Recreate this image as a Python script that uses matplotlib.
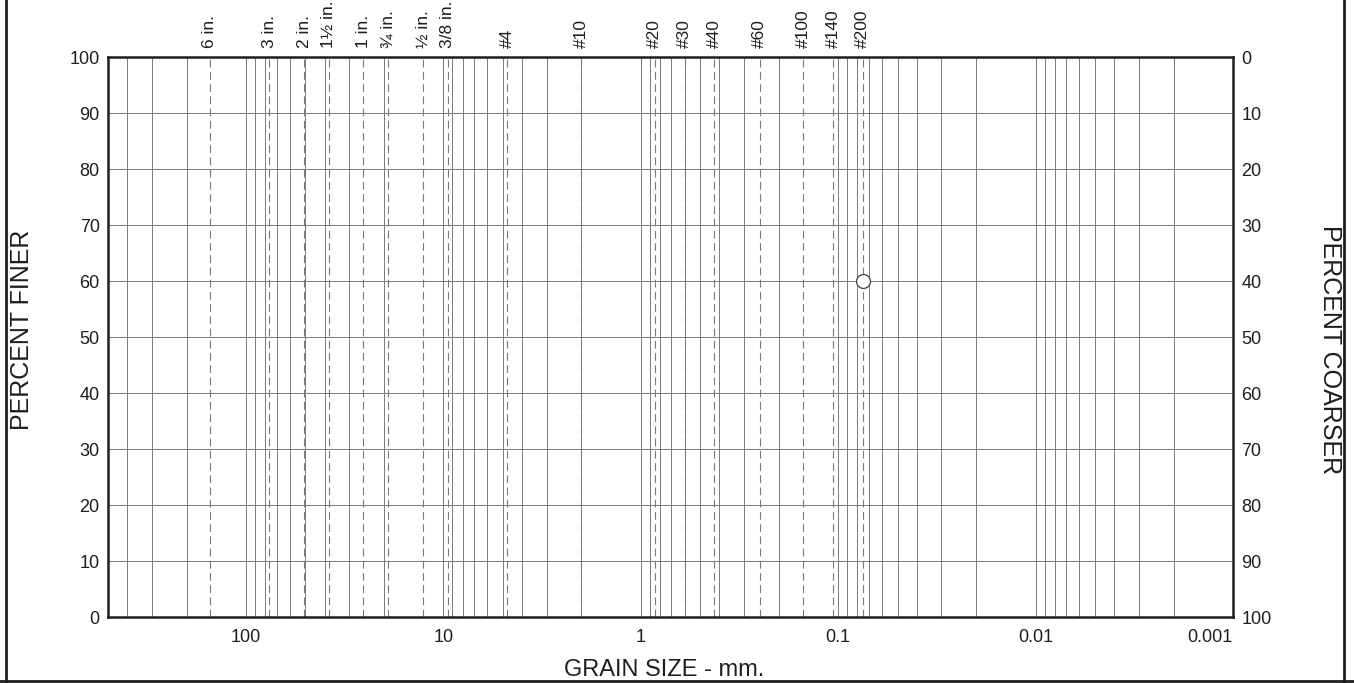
import numpy as np
import matplotlib
matplotlib.use("Agg")
import matplotlib.pyplot as plt
import matplotlib.ticker as mticker
from matplotlib.lines import Line2D

plt.rcParams['font.family'] = ['Liberation Sans', 'DejaVu Sans']

# sieve openings (mm) and their names along the top
sieve_mm = [152.4, 76.2, 50.8, 38.1, 25.4, 19.05, 12.7, 9.525, 4.75,
            2.0, 0.85, 0.6, 0.425, 0.25, 0.15, 0.106, 0.075]
sieve_names = ['6 in.', '3 in.', '2 in.', '1½ in.', '1 in.', '¾ in.', '½ in.', '3/8 in.', '#4',
               '#10', '#20', '#30', '#40', '#60', '#100', '#140', '#200']

# test result
grain_mm = [0.075]
pct_finer = [60]

x_major = [100, 10, 1, 0.1, 0.01, 0.001]
x_major_text = ['100', '10', '1', '0.1', '0.01', '0.001']
y_ticks = [0, 10, 20, 30, 40, 50, 60, 70, 80, 90, 100]

ink = '#1e1e1e'
grid_c = '#7a7a7a'

fig = plt.figure(figsize=(13.54, 6.83), dpi=100)
ax = fig.add_axes([108/1354, 1-617/683, 1125/1354, 560/683])

ax.set_xscale('log')
ax.set_xlim(500, 0.001)
ax.set_ylim(0, 100)

# vertical grid: every 1..9 of each decade
ax.xaxis.set_major_locator(mticker.FixedLocator(x_major))
ax.xaxis.set_minor_locator(mticker.LogLocator(base=10, subs=np.arange(2, 10)))
ax.xaxis.set_minor_formatter(mticker.NullFormatter())
ax.set_xticklabels(x_major_text)
ax.grid(True, which='both', axis='x', color=grid_c, lw=0.7)
ax.set_yticks(y_ticks)
ax.grid(True, which='major', axis='y', color=grid_c, lw=0.7)
ax.tick_params(axis='x', which='both', length=0, pad=9, labelsize=13, labelcolor=ink)
ax.tick_params(axis='y', length=0, pad=6, labelsize=13, labelcolor=ink)
ax.get_xticklabels()[-1].set_ha('right')

# dashed sieve lines and labels
for d, name in zip(sieve_mm, sieve_names):
    ax.axvline(d, color=grid_c, lw=0.8, ls=(0, (7, 4)))
    ax.text(d, 101.6, name, rotation=90, ha='center', va='bottom',
            fontsize=12.5, color=ink)

ax.plot(grain_mm, pct_finer, 'o', ms=10, mfc='white', mec='#444444', mew=0.9, zorder=5)

for s in ax.spines.values():
    s.set_linewidth(1.8)
    s.set_color(ink)

# right axis: percent coarser
ax2 = ax.twinx()
ax2.set_ylim(100, 0)
ax2.set_yticks(y_ticks)
ax2.tick_params(axis='y', length=0, pad=6, labelsize=13, labelcolor=ink)
for s in ax2.spines.values():
    s.set_visible(False)

fig.text(22/1354, 1-330/683, 'PERCENT FINER', rotation=90, ha='center', va='center',
         fontsize=18, color=ink)
fig.text(1330/1354, 1-350/683, 'PERCENT COARSER', rotation=270, ha='center', va='center',
         fontsize=18, color=ink)
fig.text(664/1354, 1-670/683, 'GRAIN SIZE - mm.', ha='center', va='center',
         fontsize=17, color=ink)

# outer form border
fig.add_artist(Line2D([6/1354, 6/1354], [1-681/683, 1], transform=fig.transFigure, color=ink, lw=2))
fig.add_artist(Line2D([1344/1354, 1344/1354], [1-681/683, 1], transform=fig.transFigure, color=ink, lw=2))
fig.add_artist(Line2D([0, 1], [1-681/683, 1-681/683], transform=fig.transFigure, color=ink, lw=2))

fig.savefig('out.png', dpi=100)
